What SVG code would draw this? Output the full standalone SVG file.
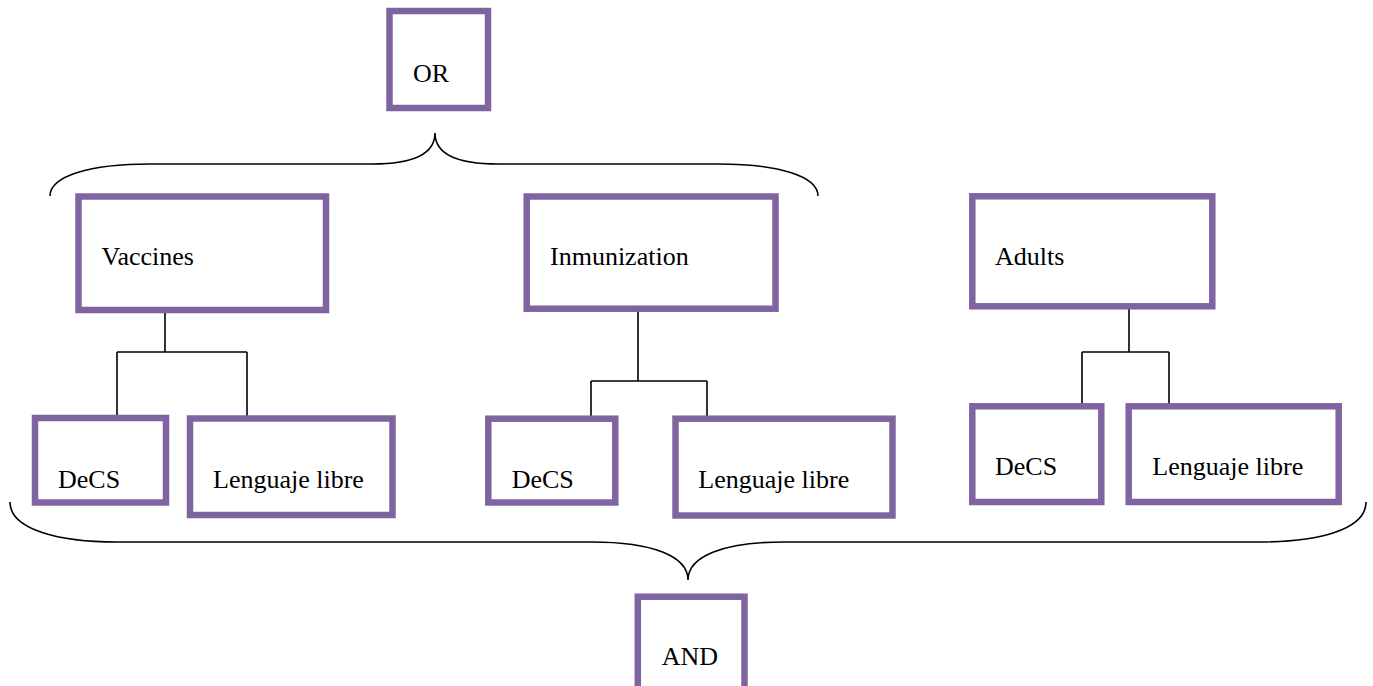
<svg xmlns="http://www.w3.org/2000/svg" width="1373" height="686" viewBox="0 0 1373 686">
<style>
.box{fill:#fff;stroke:#8064A2;stroke-width:6.5}
.lbl{font-family:"Liberation Serif","Times New Roman",serif;font-size:26px;fill:#000}
.con{fill:none;stroke:#000;stroke-width:1.6}
.brace{fill:none;stroke:#000;stroke-width:1.6}
</style>
<rect width="1373" height="686" fill="#fff"/>
<g id="connectors">
<path class="brace" d="M50,196 C50,176 90,164 150,164 L372,164 C410,164 435,156 435,133 C435,156 460,164 498,164 L718,164 C778,164 818,176 818,196"/>
<path class="brace" d="M10,502 C10,530 60,542 117,542 L592,542 C652,542 688,556 688,580 C688,556 724,542 784,542 L1258,542 C1318,542 1366,530 1366,502"/>
<path class="con" d="M165,310 V352 M117,352 H247 M117,352 V419 M247,352 V419"/>
<path class="con" d="M638,309 V381 M591,381 H707 M591,381 V419 M707,381 V419"/>
<path class="con" d="M1129,306 V352 M1082,352 H1169 M1082,352 V407 M1169,352 V407"/>
</g>
<g id="or"><rect class="box" x="389.5" y="11" width="98.5" height="97"/><text class="lbl" x="413" y="82">OR</text></g>
<g id="vaccines"><rect class="box" x="78.5" y="196.5" width="247.5" height="113.5"/><text class="lbl" x="101.5" y="265">Vaccines</text></g>
<g id="inmunization"><rect class="box" x="526.7" y="196.5" width="248.8" height="112.2"/><text class="lbl" x="550" y="265">Inmunization</text></g>
<g id="adults"><rect class="box" x="972.3" y="196.3" width="240" height="110"/><text class="lbl" x="995" y="265">Adults</text></g>
<g id="decs1"><rect class="box" x="35" y="418" width="131" height="84.5"/><text class="lbl" x="58" y="488">DeCS</text></g>
<g id="libre1"><rect class="box" x="190" y="418.5" width="202.5" height="96.5"/><text class="lbl" x="213" y="488">Lenguaje libre</text></g>
<g id="decs2"><rect class="box" x="488.3" y="418.7" width="127" height="83.8"/><text class="lbl" x="511.7" y="487.5">DeCS</text></g>
<g id="libre2"><rect class="box" x="675.5" y="418.7" width="217" height="96.8"/><text class="lbl" x="698.3" y="487.5">Lenguaje libre</text></g>
<g id="decs3"><rect class="box" x="972.3" y="406.3" width="129" height="95.7"/><text class="lbl" x="995" y="475">DeCS</text></g>
<g id="libre3"><rect class="box" x="1128.7" y="406.3" width="210" height="95.7"/><text class="lbl" x="1152.3" y="475">Lenguaje libre</text></g>
<g id="and"><rect class="box" x="637.8" y="596.7" width="106.7" height="100"/><text class="lbl" x="661.7" y="665">AND</text></g>
</svg>
